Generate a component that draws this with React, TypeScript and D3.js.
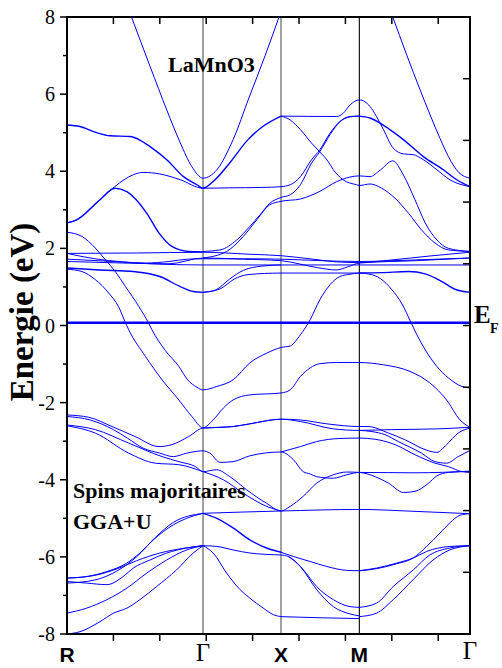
import React from "react";
import * as d3 from "d3";

type P = [number, number];

// ---- k-path (axis units, tick every 1) ----
const symK = [0, 2.931, 4.612, 6.3, 8.685];
const symLabels = ["R", "Γ", "X", "M", "Γ"];
const kTicks = [1, 2, 3, 4, 5, 6, 7, 8];
const eMajor = [-8, -6, -4, -2, 0, 2, 4, 6, 8];
const eMinor = [-7, -5, -3, -1, 1, 3, 5, 7];
const eRight = [-8, -6.4, -4.8, -3.2, -1.6, 0, 1.6, 3.2, 4.8, 6.4, 8];
const fermi = 0.07;

// ---- bands (k, E in eV) ----
const bandA1: P[] = [[1.39, 8.0], [1.79, 6.72], [2.15, 5.59], [2.44, 4.74], [2.69, 4.12], [2.931, 3.82], [3.23, 4.04], [3.58, 4.82], [3.92, 5.9], [4.27, 7.0], [4.57, 8.0]];
const bandA2: P[] = [[7.02, 8.0], [7.61, 6.11], [8.04, 4.85], [8.22, 4.38], [8.45, 3.96], [8.685, 3.82]];
const bandB: P[] = [[0, 5.2], [0.28, 5.16], [0.64, 5.0], [0.93, 4.92], [1.36, 4.9], [1.57, 4.81], [1.79, 4.64], [2.15, 4.3], [2.51, 3.86], [2.8, 3.65], [2.931, 3.56], [3.19, 3.78], [3.51, 4.22], [3.9, 4.82], [4.22, 5.16], [4.612, 5.43]];
const bandC: P[] = [[0, 2.66], [0.21, 2.74], [0.71, 3.26], [1.03, 3.6], [1.43, 3.91], [1.64, 3.97], [2.0, 3.93], [2.44, 3.78], [2.931, 3.56], [3.5, 3.57], [4.2, 3.58], [4.612, 3.6], [4.81, 3.65], [5.03, 3.86], [5.27, 4.3], [5.45, 4.56], [5.67, 4.99], [5.88, 5.29], [6.1, 5.42], [6.3, 5.43]];
const bandCmg: P[] = [[6.3, 5.43], [6.53, 5.38], [6.75, 5.25], [6.96, 5.08], [7.25, 4.82], [7.68, 4.38], [8.11, 4.04], [8.4, 3.78], [8.685, 3.6]];
const bandD: P[] = [[0, 2.66], [0.21, 2.74], [0.71, 3.26], [1.03, 3.56], [1.29, 3.47], [1.72, 2.91], [1.98, 2.4], [2.26, 2.05], [2.62, 1.92], [2.931, 1.91]];
const g1: P[] = [[2.931, 1.92], [3.3, 1.96], [3.66, 2.22], [3.94, 2.57], [4.16, 2.87], [4.37, 3.17], [4.612, 3.32], [4.81, 3.39], [5.03, 3.65], [5.27, 4.21], [5.45, 4.51], [5.67, 4.95], [5.88, 5.28], [6.1, 5.41], [6.3, 5.43]];
const g2: P[] = [[2.931, 1.75], [3.44, 1.92], [3.8, 2.31], [4.09, 2.74], [4.37, 3.13], [4.612, 3.22], [5.03, 3.28], [5.45, 3.48], [5.81, 3.73], [6.1, 3.85], [6.3, 3.88], [6.53, 3.86], [6.75, 4.03], [7.02, 4.27], [7.25, 3.9], [7.5, 3.26], [7.72, 2.66], [7.97, 2.22], [8.22, 2.0], [8.685, 1.92]];
const xm1: P[] = [[4.612, 5.43], [5.81, 5.42], [5.95, 5.5], [6.1, 5.72], [6.3, 5.85], [6.53, 5.68], [6.67, 5.42], [6.82, 5.08], [7.03, 4.6], [7.25, 4.45], [7.46, 4.43], [7.68, 4.3], [7.97, 4.04], [8.25, 3.78], [8.685, 3.6]];
const xm2: P[] = [[4.612, 5.43], [4.81, 5.33], [5.03, 5.08], [5.27, 4.73], [5.45, 4.5], [5.63, 4.25], [5.74, 4.04], [5.95, 3.78], [6.24, 3.65], [6.3, 3.63], [6.53, 3.67], [6.78, 3.56], [7.07, 3.3], [7.36, 2.91], [7.64, 2.48], [7.93, 2.14], [8.22, 1.96], [8.685, 1.92]];
const f1: P[] = [[0, 1.87], [1.5, 1.88], [2.931, 1.9], [3.9, 1.85], [4.612, 1.81], [5.3, 1.72], [5.8, 1.65], [6.3, 1.63], [7.0, 1.7], [7.8, 1.8], [8.685, 1.9]];
const f2: P[] = [[0, 1.87], [0.6, 1.73], [1.2, 1.65], [1.7, 1.62], [2.2, 1.66], [2.6, 1.72], [2.931, 1.73], [3.8, 1.73], [4.612, 1.72], [5.5, 1.68], [6.3, 1.66], [7.5, 1.7], [8.685, 1.75]];
const f3: P[] = [[0, 1.72], [1.0, 1.66], [1.8, 1.6], [2.931, 1.57], [4.612, 1.57], [6.3, 1.57], [8.685, 1.57]];
const f4: P[] = [[0, 1.66], [1.2, 1.62], [2.2, 1.6], [2.931, 1.75], [3.8, 1.72], [4.612, 1.68], [5.4, 1.5], [5.8, 1.44], [6.05, 1.52], [6.3, 1.62], [7.5, 1.68], [8.685, 1.75]];
const f5: P[] = [[0, 1.49], [0.71, 1.44], [1.43, 1.4], [2.0, 1.27], [2.44, 1.01], [2.72, 0.88], [2.931, 0.86]];
const g3: P[] = [[2.931, 0.86], [3.2, 0.92], [3.5, 1.2], [3.8, 1.43], [4.2, 1.54], [4.612, 1.57]];
const g4: P[] = [[2.931, 0.86], [3.3, 0.95], [3.6, 1.2], [3.9, 1.32], [4.612, 1.36], [5.5, 1.36], [6.3, 1.36]];
const g4mg: P[] = [[6.3, 1.36], [6.78, 1.37], [7.36, 1.4], [7.72, 1.34], [8.08, 1.14], [8.36, 0.94], [8.685, 0.86]];
const c1: P[] = [[0, 2.42], [0.32, 2.31], [0.61, 2.01], [0.83, 1.7], [1.04, 1.4], [1.26, 1.01], [1.55, 0.49], [1.76, 0.06], [1.83, -0.11], [2.12, -0.65], [2.41, -1.06], [2.6, -1.41], [2.8, -1.6], [2.931, -1.67], [3.23, -1.58], [3.58, -1.41], [3.94, -0.97], [4.3, -0.72], [4.612, -0.57], [4.81, -0.53], [5.03, -0.24], [5.24, 0.15], [5.45, 0.67], [5.67, 1.06], [5.88, 1.27], [6.1, 1.33], [6.3, 1.36], [6.53, 1.33], [6.75, 1.22], [7.0, 0.93], [7.21, 0.58], [7.42, 0.06], [7.54, -0.24], [7.72, -0.63], [7.97, -1.06], [8.22, -1.36], [8.51, -1.58], [8.685, -1.62]];
const c2: P[] = [[0, 1.46], [0.32, 1.4], [0.61, 1.19], [0.9, 0.84], [1.11, 0.49], [1.25, 0.1], [1.33, -0.11], [1.69, -0.8], [2.05, -1.41], [2.41, -1.93], [2.69, -2.36], [2.931, -2.65], [3.15, -2.45], [3.37, -2.14], [3.58, -1.93], [3.94, -1.8], [4.612, -1.75], [4.81, -1.67], [5.03, -1.32], [5.24, -1.1], [5.45, -0.99], [5.81, -0.96], [6.3, -0.96], [6.82, -1.02], [7.39, -1.19], [7.82, -1.49], [8.18, -1.93], [8.47, -2.45], [8.685, -2.64]];
const L1: P[] = [[0, -2.32], [0.47, -2.38], [0.97, -2.62], [1.47, -2.88], [1.98, -3.14], [2.26, -3.09], [2.62, -2.88], [2.931, -2.66], [3.3, -2.64], [3.58, -2.62], [3.94, -2.55], [4.612, -2.43], [5.03, -2.49], [5.74, -2.68], [6.3, -2.72], [7.0, -2.7], [8.0, -2.68], [8.685, -2.64]];
const L1b: P[] = [[2.931, -2.66], [3.3, -2.64], [3.58, -2.62], [3.94, -2.55], [4.612, -2.43], [5.03, -2.45], [5.6, -2.55], [6.3, -2.62], [6.49, -2.62], [6.93, -2.79], [7.28, -2.96], [7.72, -3.22], [7.97, -3.29], [8.18, -3.09], [8.43, -2.79], [8.685, -2.66]];
const L2: P[] = [[0, -2.36], [0.5, -2.45], [1.0, -2.7], [1.3, -2.92], [1.64, -3.18], [2.0, -3.31], [2.29, -3.4], [2.58, -3.31], [2.931, -3.25], [3.08, -3.31], [3.3, -3.55], [3.58, -3.53], [3.94, -3.38], [4.612, -3.28], [4.88, -3.48], [5.09, -3.79], [5.24, -3.85], [5.38, -3.92], [5.74, -3.96], [6.03, -3.87], [6.3, -3.81], [7.5, -3.82], [8.685, -3.78]];
const L3: P[] = [[0, -2.58], [0.61, -2.7], [1.33, -3.05], [2.05, -3.4], [2.41, -3.53], [2.77, -3.66], [2.931, -3.79], [3.22, -3.74], [3.51, -3.92], [3.87, -4.26], [4.3, -4.61], [4.612, -4.81], [4.81, -4.69], [5.09, -4.43], [5.38, -4.09], [5.74, -3.87], [6.03, -3.8], [6.3, -3.81], [6.64, -3.92], [6.93, -4.09], [7.25, -4.33], [7.5, -4.3], [7.79, -4.09], [7.97, -3.9], [8.22, -3.81], [8.685, -3.78]];
const L4: P[] = [[0, -2.6], [0.61, -2.79], [1.33, -3.31], [1.9, -3.57], [2.41, -3.61], [2.931, -3.79], [3.37, -4.0], [3.8, -4.35], [4.3, -4.69], [4.612, -4.81]];
const mgA: P[] = [[6.3, -2.72], [6.57, -2.75], [6.85, -2.83], [7.14, -3.01], [7.64, -3.31], [7.93, -3.53], [8.18, -3.57], [8.43, -3.4], [8.685, -3.24]];
const xmB: P[] = [[4.612, -3.28], [5.03, -3.14], [5.38, -3.01], [5.88, -2.93], [6.3, -2.92], [6.64, -2.95], [7.07, -3.09], [7.5, -3.35], [7.93, -3.57], [8.22, -3.66], [8.51, -3.79], [8.685, -3.81]];
const flat48: P[] = [[2.931, -4.87], [4.612, -4.81], [6.3, -4.77], [7.5, -4.82], [8.685, -4.88]];
const low1: P[] = [[0, -6.55], [0.42, -6.51], [0.86, -6.38], [1.29, -6.16], [1.57, -5.9], [1.86, -5.56], [2.29, -5.17], [2.58, -5.0], [2.931, -4.87]];
const low2: P[] = [[0, -6.55], [0.6, -6.48], [1.1, -6.3], [1.5, -6.1], [2.0, -5.9], [2.5, -5.78], [2.931, -5.71]];
const low3: P[] = [[0, -6.64], [0.42, -6.68], [0.86, -6.72], [1.21, -6.51], [1.43, -6.29], [1.79, -6.08], [2.15, -5.9], [2.58, -5.77], [2.931, -5.71]];
const low4: P[] = [[0, -6.68], [0.6, -6.6], [1.1, -6.35], [1.5, -6.0], [1.9, -5.5], [2.3, -5.1], [2.931, -4.87]];
const low5: P[] = [[0, -7.46], [0.42, -7.33], [0.86, -7.11], [1.29, -6.81], [1.72, -6.42], [2.15, -6.08], [2.58, -5.82], [2.931, -5.71]];
const low6: P[] = [[0, -8.0], [0.28, -7.94], [0.71, -7.68], [1.0, -7.46], [1.29, -7.33], [1.57, -7.11], [1.93, -6.77], [2.36, -6.34], [2.72, -5.9], [2.931, -5.71]];
const gl1: P[] = [[2.931, -4.87], [3.23, -5.0], [3.58, -5.25], [3.94, -5.56], [4.3, -5.77], [4.612, -5.88]];
const gl2: P[] = [[2.931, -5.71], [3.23, -5.73], [3.58, -5.82], [3.94, -5.9], [4.612, -5.95]];
const gl3: P[] = [[2.931, -5.71], [3.15, -5.9], [3.44, -6.42], [3.73, -6.85], [3.94, -7.07], [4.23, -7.33], [4.45, -7.5], [4.612, -7.55]];
const xma: P[] = [[4.612, -5.88], [4.88, -5.99], [5.24, -6.12], [5.6, -6.25], [6.03, -6.35], [6.3, -6.36]];
const xmb: P[] = [[4.612, -5.95], [4.77, -5.99], [5.09, -6.33], [5.38, -6.77], [5.74, -7.11], [6.1, -7.29], [6.3, -7.31]];
const xmc: P[] = [[4.77, -5.99], [5.03, -6.25], [5.38, -6.85], [5.74, -7.29], [6.1, -7.48], [6.3, -7.53]];
const xmd: P[] = [[4.612, -7.55], [5.5, -7.58], [6.3, -7.6]];
const m1: P[] = [[6.3, -6.36], [6.67, -6.29], [7.11, -6.16], [7.46, -6.03], [7.75, -5.86], [8.25, -5.73], [8.685, -5.71]];
const m2: P[] = [[6.3, -6.36], [6.7, -6.3], [7.1, -6.18], [7.46, -6.03], [7.75, -5.73], [8.04, -5.38], [8.25, -5.12], [8.47, -4.92], [8.685, -4.88]];
const m3: P[] = [[6.3, -7.31], [6.67, -7.2], [7.03, -6.77], [7.46, -6.34], [7.82, -5.95], [8.25, -5.77], [8.685, -5.71]];
const m4: P[] = [[6.3, -7.55], [6.67, -7.46], [7.03, -7.11], [7.46, -6.59], [7.89, -6.08], [8.25, -5.82], [8.685, -5.71]];

const bands: P[][] = [bandA1, bandA2, bandC, g1, g2, xm1, xm2, f1, f2, f3, f4, g3, g4, c1, c2, L1, L1b, L2, L3, L4, mgA, xmB, flat48, low1, low2, low3, low4, low5, low6, gl2, gl3, xma, xmb, xmc, xmd, m1, m2, m3, m4];
const degenerateBands: P[][] = [bandB, bandCmg, bandD, f5, g4mg, gl1];

export default function App() {
  const W = 502, H = 668;
  const x = d3.scaleLinear().domain([0, 8.685]).range([67, 470]);
  const y = d3.scaleLinear().domain([-8, 8]).range([634, 17]);
  const line = d3.line<P>().x((d) => x(d[0])).y((d) => y(d[1])).curve(d3.curveMonotoneX);
  const [x0, x1] = x.range();
  const [yb, yt] = y.range();
  const serif = "'Liberation Serif', 'Times New Roman', serif";
  const sans = "'Liberation Sans', Arial, sans-serif";
  const symColors = ["#000", "#888", "#555", "#000", "#000"];
  const symWidths = [0, 1.6, 1.1, 1.1, 0];

  return (
    <svg width={W} height={H} style={{ position: "absolute", left: 0, top: 0, background: "#fff" }}>
      <defs>
        <clipPath id="plot">
          <rect x={x0} y={yt} width={x1 - x0} height={yb - yt} />
        </clipPath>
      </defs>
      <rect x={0} y={0} width={W} height={H} fill="#fff" />
      {symK.map((k, i) =>
        symWidths[i] > 0 ? (
          <line key={"v" + i} x1={x(k)} x2={x(k)} y1={yt} y2={yb} stroke={symColors[i]} strokeWidth={symWidths[i]} />
        ) : null
      )}
      <g clipPath="url(#plot)" fill="none" stroke="#0000ff">
        {bands.map((b, i) => (
          <path key={"b" + i} d={line(b) || ""} strokeWidth={1} />
        ))}
        {degenerateBands.map((b, i) => (
          <path key={"d" + i} d={line(b) || ""} strokeWidth={1.4} />
        ))}
        <line x1={x0} x2={x1} y1={y(fermi)} y2={y(fermi)} strokeWidth={2.6} />
      </g>
      <rect x={x0} y={yt} width={x1 - x0} height={yb - yt} fill="none" stroke="#000" strokeWidth={2} />
      {eMajor.map((e) => (
        <g key={"lm" + e}>
          <line x1={x0 - 7} x2={x0} y1={y(e)} y2={y(e)} stroke="#000" strokeWidth={1.5} />
          <text x={55} y={y(e)} dy="0.35em" textAnchor="end" fontFamily={serif} fontSize={20} fill="#000">
            {e}
          </text>
        </g>
      ))}
      {eMinor.map((e) => (
        <line key={"ln" + e} x1={x0 - 4} x2={x0} y1={y(e)} y2={y(e)} stroke="#000" strokeWidth={1.5} />
      ))}
      {eRight.map((e) => (
        <line key={"r" + e} x1={x1 - 7} x2={x1} y1={y(e)} y2={y(e)} stroke="#000" strokeWidth={1.5} />
      ))}
      {kTicks.map((k) => (
        <g key={"k" + k}>
          <line x1={x(k)} x2={x(k)} y1={yt} y2={yt + 7} stroke="#000" strokeWidth={1.5} />
          <line x1={x(k)} x2={x(k)} y1={yb} y2={yb + 7} stroke="#000" strokeWidth={1.5} />
        </g>
      ))}
      {symK.map((k, i) =>
        symLabels[i] === "Γ" ? (
          <text key={"s" + i} x={x(k)} y={i === 4 ? 659 : 661} textAnchor="middle" fontFamily={serif} fontSize={25} fill="#000">
            {symLabels[i]}
          </text>
        ) : (
          <text key={"s" + i} x={x(k)} y={662} textAnchor="middle" fontFamily={sans} fontWeight="bold" fontSize={21} fill="#000">
            {symLabels[i]}
          </text>
        )
      )}
      <text transform="translate(33,312) rotate(-90)" textAnchor="middle" fontFamily={serif} fontWeight="bold" fontSize={33} fill="#000">
        Energie (eV)
      </text>
      <text x={168} y={72} fontFamily={serif} fontWeight="bold" fontSize={22} fill="#000">LaMnO3</text>
      <text x={73} y={498} fontFamily={serif} fontWeight="bold" fontSize={22} fill="#000">Spins majoritaires</text>
      <text x={73} y={529} fontFamily={serif} fontWeight="bold" fontSize={22} fill="#000">GGA+U</text>
      <text x={474} y={323} fontFamily={serif} fontWeight="bold" fontSize={25} fill="#000">E</text>
      <text x={490} y={333} fontFamily={serif} fontWeight="bold" fontSize={14} fill="#000">F</text>
    </svg>
  );
}
